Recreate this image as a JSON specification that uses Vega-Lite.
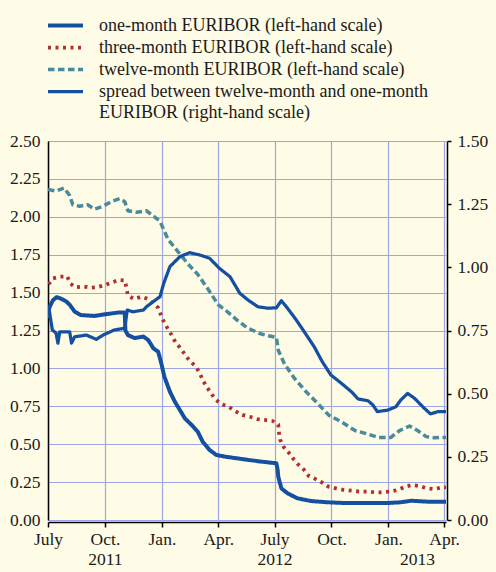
{
  "$schema": "https://vega.github.io/schema/vega-lite/v6.json",
  "autosize": {"type": "none"},
  "padding": {"left": 48, "top": 141, "right": 50, "bottom": 52},
  "width": 398,
  "height": 379,
  "background": "#fefbe6",
  "config": {
    "font": "Liberation Serif",
    "view": {"stroke": null},
    "axis": {"labelFont": "Liberation Serif", "labelFontSize": 17.5, "labelColor": "#1a1a1a", "domainColor": "#000000", "domainWidth": 1.5, "tickColor": "#000000", "tickWidth": 1.5, "gridColor": "#9da6e6", "gridWidth": 1.2, "gridOpacity": 1, "title": null},
    "legend": {"labelFont": "Liberation Serif", "labelFontSize": 18, "labelColor": "#1a1a1a", "labelLimit": 500}
  },
  "datasets": {
    "rates": [
      {"date": "2011-07-01", "series": "one", "value": 1.33},
      {"date": "2011-07-03", "series": "one", "value": 1.40},
      {"date": "2011-07-09", "series": "one", "value": 1.45},
      {"date": "2011-07-15", "series": "one", "value": 1.47},
      {"date": "2011-07-22", "series": "one", "value": 1.46},
      {"date": "2011-07-31", "series": "one", "value": 1.44},
      {"date": "2011-08-05", "series": "one", "value": 1.42},
      {"date": "2011-08-13", "series": "one", "value": 1.375},
      {"date": "2011-08-23", "series": "one", "value": 1.352},
      {"date": "2011-09-14", "series": "one", "value": 1.346},
      {"date": "2011-10-01", "series": "one", "value": 1.357},
      {"date": "2011-10-22", "series": "one", "value": 1.368},
      {"date": "2011-11-02", "series": "one", "value": 1.368},
      {"date": "2011-11-03", "series": "one", "value": 1.25},
      {"date": "2011-11-07", "series": "one", "value": 1.22},
      {"date": "2011-11-18", "series": "one", "value": 1.20},
      {"date": "2011-12-02", "series": "one", "value": 1.21},
      {"date": "2011-12-10", "series": "one", "value": 1.187},
      {"date": "2011-12-15", "series": "one", "value": 1.154},
      {"date": "2011-12-18", "series": "one", "value": 1.133},
      {"date": "2011-12-26", "series": "one", "value": 1.11},
      {"date": "2011-12-31", "series": "one", "value": 1.034},
      {"date": "2012-01-05", "series": "one", "value": 0.945},
      {"date": "2012-01-14", "series": "one", "value": 0.846},
      {"date": "2012-01-22", "series": "one", "value": 0.78},
      {"date": "2012-01-30", "series": "one", "value": 0.726},
      {"date": "2012-02-07", "series": "one", "value": 0.671},
      {"date": "2012-02-18", "series": "one", "value": 0.627},
      {"date": "2012-02-28", "series": "one", "value": 0.582},
      {"date": "2012-03-07", "series": "one", "value": 0.516},
      {"date": "2012-03-18", "series": "one", "value": 0.462},
      {"date": "2012-03-29", "series": "one", "value": 0.429},
      {"date": "2012-04-12", "series": "one", "value": 0.418},
      {"date": "2012-05-01", "series": "one", "value": 0.407},
      {"date": "2012-05-20", "series": "one", "value": 0.396},
      {"date": "2012-06-10", "series": "one", "value": 0.385},
      {"date": "2012-07-04", "series": "one", "value": 0.374},
      {"date": "2012-07-06", "series": "one", "value": 0.33},
      {"date": "2012-07-07", "series": "one", "value": 0.286},
      {"date": "2012-07-12", "series": "one", "value": 0.209},
      {"date": "2012-07-22", "series": "one", "value": 0.176},
      {"date": "2012-08-07", "series": "one", "value": 0.143},
      {"date": "2012-08-29", "series": "one", "value": 0.125},
      {"date": "2012-09-24", "series": "one", "value": 0.117},
      {"date": "2012-10-22", "series": "one", "value": 0.112},
      {"date": "2012-11-29", "series": "one", "value": 0.112},
      {"date": "2012-12-31", "series": "one", "value": 0.112},
      {"date": "2013-01-21", "series": "one", "value": 0.117},
      {"date": "2013-02-07", "series": "one", "value": 0.127},
      {"date": "2013-03-05", "series": "one", "value": 0.121},
      {"date": "2013-04-04", "series": "one", "value": 0.121},

      {"date": "2011-07-02", "series": "three", "value": 1.555},
      {"date": "2011-07-09", "series": "three", "value": 1.594},
      {"date": "2011-07-21", "series": "three", "value": 1.605},
      {"date": "2011-08-01", "series": "three", "value": 1.607},
      {"date": "2011-08-06", "series": "three", "value": 1.56},
      {"date": "2011-08-14", "series": "three", "value": 1.535},
      {"date": "2011-08-27", "series": "three", "value": 1.54},
      {"date": "2011-09-08", "series": "three", "value": 1.532},
      {"date": "2011-09-20", "series": "three", "value": 1.537},
      {"date": "2011-10-01", "series": "three", "value": 1.55},
      {"date": "2011-10-11", "series": "three", "value": 1.565},
      {"date": "2011-10-23", "series": "three", "value": 1.583},
      {"date": "2011-11-02", "series": "three", "value": 1.58},
      {"date": "2011-11-05", "series": "three", "value": 1.528},
      {"date": "2011-11-07", "series": "three", "value": 1.48},
      {"date": "2011-11-17", "series": "three", "value": 1.458},
      {"date": "2011-11-29", "series": "three", "value": 1.473},
      {"date": "2011-12-10", "series": "three", "value": 1.458},
      {"date": "2011-12-18", "series": "three", "value": 1.43},
      {"date": "2011-12-26", "series": "three", "value": 1.40},
      {"date": "2011-12-30", "series": "three", "value": 1.357},
      {"date": "2012-01-04", "series": "three", "value": 1.31},
      {"date": "2012-01-10", "series": "three", "value": 1.265},
      {"date": "2012-01-16", "series": "three", "value": 1.225},
      {"date": "2012-01-23", "series": "three", "value": 1.172},
      {"date": "2012-01-31", "series": "three", "value": 1.133},
      {"date": "2012-02-07", "series": "three", "value": 1.093},
      {"date": "2012-02-15", "series": "three", "value": 1.049},
      {"date": "2012-02-24", "series": "three", "value": 1.016},
      {"date": "2012-03-02", "series": "three", "value": 0.972},
      {"date": "2012-03-07", "series": "three", "value": 0.923},
      {"date": "2012-03-13", "series": "three", "value": 0.879},
      {"date": "2012-03-20", "series": "three", "value": 0.84},
      {"date": "2012-03-27", "series": "three", "value": 0.796},
      {"date": "2012-04-06", "series": "three", "value": 0.765},
      {"date": "2012-04-18", "series": "three", "value": 0.747},
      {"date": "2012-04-28", "series": "three", "value": 0.719},
      {"date": "2012-05-10", "series": "three", "value": 0.693},
      {"date": "2012-05-22", "series": "three", "value": 0.681},
      {"date": "2012-06-03", "series": "three", "value": 0.666},
      {"date": "2012-06-15", "series": "three", "value": 0.66},
      {"date": "2012-06-28", "series": "three", "value": 0.653},
      {"date": "2012-07-07", "series": "three", "value": 0.63},
      {"date": "2012-07-08", "series": "three", "value": 0.58},
      {"date": "2012-07-10", "series": "three", "value": 0.53},
      {"date": "2012-07-16", "series": "three", "value": 0.48},
      {"date": "2012-07-24", "series": "three", "value": 0.444},
      {"date": "2012-08-01", "series": "three", "value": 0.40},
      {"date": "2012-08-08", "series": "three", "value": 0.367},
      {"date": "2012-08-17", "series": "three", "value": 0.334},
      {"date": "2012-08-25", "series": "three", "value": 0.292},
      {"date": "2012-09-03", "series": "three", "value": 0.275},
      {"date": "2012-09-15", "series": "three", "value": 0.249},
      {"date": "2012-09-26", "series": "three", "value": 0.22},
      {"date": "2012-10-08", "series": "three", "value": 0.209},
      {"date": "2012-10-21", "series": "three", "value": 0.198},
      {"date": "2012-11-03", "series": "three", "value": 0.193},
      {"date": "2012-11-16", "series": "three", "value": 0.187},
      {"date": "2012-11-28", "series": "three", "value": 0.187},
      {"date": "2012-12-09", "series": "three", "value": 0.183},
      {"date": "2012-12-21", "series": "three", "value": 0.183},
      {"date": "2013-01-04", "series": "three", "value": 0.187},
      {"date": "2013-01-16", "series": "three", "value": 0.198},
      {"date": "2013-01-28", "series": "three", "value": 0.22},
      {"date": "2013-02-08", "series": "three", "value": 0.231},
      {"date": "2013-02-20", "series": "three", "value": 0.224},
      {"date": "2013-03-04", "series": "three", "value": 0.209},
      {"date": "2013-03-16", "series": "three", "value": 0.204},
      {"date": "2013-03-29", "series": "three", "value": 0.216},
      {"date": "2013-04-04", "series": "three", "value": 0.215},

      {"date": "2011-07-01", "series": "twelve", "value": 2.18},
      {"date": "2011-07-14", "series": "twelve", "value": 2.17},
      {"date": "2011-07-27", "series": "twelve", "value": 2.19},
      {"date": "2011-08-05", "series": "twelve", "value": 2.14},
      {"date": "2011-08-10", "series": "twelve", "value": 2.08},
      {"date": "2011-08-21", "series": "twelve", "value": 2.07},
      {"date": "2011-09-03", "series": "twelve", "value": 2.08},
      {"date": "2011-09-14", "series": "twelve", "value": 2.05},
      {"date": "2011-09-28", "series": "twelve", "value": 2.07},
      {"date": "2011-10-11", "series": "twelve", "value": 2.10},
      {"date": "2011-10-25", "series": "twelve", "value": 2.12},
      {"date": "2011-11-02", "series": "twelve", "value": 2.10},
      {"date": "2011-11-07", "series": "twelve", "value": 2.04},
      {"date": "2011-11-21", "series": "twelve", "value": 2.03},
      {"date": "2011-12-07", "series": "twelve", "value": 2.04},
      {"date": "2011-12-20", "series": "twelve", "value": 2.00},
      {"date": "2011-12-29", "series": "twelve", "value": 1.97},
      {"date": "2012-01-11", "series": "twelve", "value": 1.85},
      {"date": "2012-01-25", "series": "twelve", "value": 1.78},
      {"date": "2012-02-12", "series": "twelve", "value": 1.69},
      {"date": "2012-02-28", "series": "twelve", "value": 1.62},
      {"date": "2012-03-16", "series": "twelve", "value": 1.52},
      {"date": "2012-04-01", "series": "twelve", "value": 1.42},
      {"date": "2012-04-17", "series": "twelve", "value": 1.37},
      {"date": "2012-05-01", "series": "twelve", "value": 1.32},
      {"date": "2012-05-17", "series": "twelve", "value": 1.27},
      {"date": "2012-06-07", "series": "twelve", "value": 1.23},
      {"date": "2012-06-21", "series": "twelve", "value": 1.215},
      {"date": "2012-07-04", "series": "twelve", "value": 1.205},
      {"date": "2012-07-07", "series": "twelve", "value": 1.12},
      {"date": "2012-07-17", "series": "twelve", "value": 1.03},
      {"date": "2012-08-02", "series": "twelve", "value": 0.935},
      {"date": "2012-08-21", "series": "twelve", "value": 0.846},
      {"date": "2012-09-06", "series": "twelve", "value": 0.78},
      {"date": "2012-09-27", "series": "twelve", "value": 0.69},
      {"date": "2012-10-16", "series": "twelve", "value": 0.65},
      {"date": "2012-11-08", "series": "twelve", "value": 0.59},
      {"date": "2012-11-26", "series": "twelve", "value": 0.57},
      {"date": "2012-12-15", "series": "twelve", "value": 0.545},
      {"date": "2013-01-05", "series": "twelve", "value": 0.545},
      {"date": "2013-01-19", "series": "twelve", "value": 0.59},
      {"date": "2013-02-04", "series": "twelve", "value": 0.62},
      {"date": "2013-02-17", "series": "twelve", "value": 0.59},
      {"date": "2013-03-03", "series": "twelve", "value": 0.55},
      {"date": "2013-03-16", "series": "twelve", "value": 0.543},
      {"date": "2013-04-04", "series": "twelve", "value": 0.545}
    ],
    "spread": [
      {"date": "2011-07-01", "series": "spread", "value": 0.844},
      {"date": "2011-07-03", "series": "spread", "value": 0.83},
      {"date": "2011-07-08", "series": "spread", "value": 0.752},
      {"date": "2011-07-14", "series": "spread", "value": 0.74},
      {"date": "2011-07-17", "series": "spread", "value": 0.70},
      {"date": "2011-07-20", "series": "spread", "value": 0.745},
      {"date": "2011-08-05", "series": "spread", "value": 0.745},
      {"date": "2011-08-08", "series": "spread", "value": 0.70},
      {"date": "2011-08-13", "series": "spread", "value": 0.725},
      {"date": "2011-09-01", "series": "spread", "value": 0.732},
      {"date": "2011-09-17", "series": "spread", "value": 0.715},
      {"date": "2011-09-28", "series": "spread", "value": 0.732},
      {"date": "2011-10-16", "series": "spread", "value": 0.752},
      {"date": "2011-11-02", "series": "spread", "value": 0.759},
      {"date": "2011-11-06", "series": "spread", "value": 0.831},
      {"date": "2011-11-15", "series": "spread", "value": 0.824},
      {"date": "2011-12-02", "series": "spread", "value": 0.831},
      {"date": "2011-12-07", "series": "spread", "value": 0.844},
      {"date": "2011-12-18", "series": "spread", "value": 0.864},
      {"date": "2011-12-29", "series": "spread", "value": 0.884},
      {"date": "2012-01-04", "series": "spread", "value": 0.937},
      {"date": "2012-01-14", "series": "spread", "value": 1.003},
      {"date": "2012-01-30", "series": "spread", "value": 1.042},
      {"date": "2012-02-15", "series": "spread", "value": 1.058},
      {"date": "2012-03-02", "series": "spread", "value": 1.049},
      {"date": "2012-03-18", "series": "spread", "value": 1.036},
      {"date": "2012-04-03", "series": "spread", "value": 0.996},
      {"date": "2012-04-20", "series": "spread", "value": 0.963},
      {"date": "2012-05-06", "series": "spread", "value": 0.897},
      {"date": "2012-05-19", "series": "spread", "value": 0.871},
      {"date": "2012-06-04", "series": "spread", "value": 0.844},
      {"date": "2012-06-21", "series": "spread", "value": 0.838},
      {"date": "2012-07-04", "series": "spread", "value": 0.84},
      {"date": "2012-07-12", "series": "spread", "value": 0.868},
      {"date": "2012-07-22", "series": "spread", "value": 0.838},
      {"date": "2012-08-05", "series": "spread", "value": 0.792},
      {"date": "2012-08-18", "series": "spread", "value": 0.745},
      {"date": "2012-09-03", "series": "spread", "value": 0.686},
      {"date": "2012-09-16", "series": "spread", "value": 0.627},
      {"date": "2012-09-30", "series": "spread", "value": 0.574},
      {"date": "2012-10-16", "series": "spread", "value": 0.543},
      {"date": "2012-11-02", "series": "spread", "value": 0.508},
      {"date": "2012-11-13", "series": "spread", "value": 0.479},
      {"date": "2012-11-29", "series": "spread", "value": 0.472},
      {"date": "2012-12-07", "series": "spread", "value": 0.455},
      {"date": "2012-12-14", "series": "spread", "value": 0.429},
      {"date": "2012-12-31", "series": "spread", "value": 0.435},
      {"date": "2013-01-13", "series": "spread", "value": 0.448},
      {"date": "2013-01-21", "series": "spread", "value": 0.475},
      {"date": "2013-02-01", "series": "spread", "value": 0.501},
      {"date": "2013-02-12", "series": "spread", "value": 0.482},
      {"date": "2013-02-28", "series": "spread", "value": 0.442},
      {"date": "2013-03-10", "series": "spread", "value": 0.42},
      {"date": "2013-03-22", "series": "spread", "value": 0.429},
      {"date": "2013-04-04", "series": "spread", "value": 0.429}
    ]
  },
  "layer": [
    {
      "data": {"name": "rates"},
      "mark": {"type": "line", "strokeCap": "butt", "strokeJoin": "round", "clip": true},
      "encoding": {
        "x": {
          "field": "date", "type": "temporal",
          "scale": {"domain": [{"year": 2011, "month": 7, "date": 1, "utc": true}, {"year": 2013, "month": 4, "date": 4, "utc": true}]},
          "axis": {
            "title": null,
            "offset": 2,
            "tickSize": 5,
            "labelPadding": 3,
            "labelLineHeight": 20,
            "labelBaseline": "top",
            "labelFlush": false,
            "labelOverlap": false,
            "values": [
              {"year": 2011, "month": 7, "date": 1, "utc": true},
              {"year": 2011, "month": 10, "date": 1, "utc": true},
              {"year": 2012, "month": 1, "date": 1, "utc": true},
              {"year": 2012, "month": 4, "date": 1, "utc": true},
              {"year": 2012, "month": 7, "date": 1, "utc": true},
              {"year": 2012, "month": 10, "date": 1, "utc": true},
              {"year": 2013, "month": 1, "date": 1, "utc": true},
              {"year": 2013, "month": 2, "date": 16, "utc": true},
              {"year": 2013, "month": 4, "date": 1, "utc": true}
            ],
            "labelExpr": "utcmonth(datum.value) == 6 ? (utcyear(datum.value) == 2012 ? ['July', '2012'] : 'July') : utcmonth(datum.value) == 9 ? (utcyear(datum.value) == 2011 ? ['Oct.', '2011'] : 'Oct.') : utcmonth(datum.value) == 0 ? 'Jan.' : utcmonth(datum.value) == 3 ? 'Apr.' : [' ', '2013']",
            "tickOpacity": {"condition": {"test": "utcmonth(datum.value) == 1", "value": 0}, "value": 1},
            "gridOpacity": {"condition": {"test": "utcmonth(datum.value) == 1", "value": 0}, "value": 1}
          }
        },
        "y": {
          "field": "value", "type": "quantitative",
          "scale": {"domain": [0, 2.5], "nice": false, "zero": true},
          "axis": {"title": null, "values": [0, 0.25, 0.5, 0.75, 1, 1.25, 1.5, 1.75, 2, 2.25, 2.5], "format": ".2f", "ticks": false, "labelPadding": 8}
        },
        "color": {
          "field": "series", "type": "nominal",
          "scale": {"domain": ["one", "three", "twelve", "spread", "spread2"], "range": ["#1550a0", "#b03030", "#4a8a9a", "#1550a0", "rgba(0,0,0,0)"]},
          "legend": {
            "title": null,
            "orient": "none",
            "legendX": 5,
            "legendY": -128,
            "symbolType": "M-1.667,0H1.667",
            "symbolSize": 441,
            "labelOffset": 21,
            "rowPadding": -1,
            "labelExpr": "datum.label == 'one' ? 'one-month EURIBOR (left-hand scale)' : datum.label == 'three' ? 'three-month EURIBOR (left-hand scale)' : datum.label == 'twelve' ? 'twelve-month EURIBOR (left-hand scale)' : datum.label == 'spread' ? 'spread between twelve-month and one-month' : 'EURIBOR (right-hand scale)'"
          }
        },
        "strokeDash": {
          "field": "series", "type": "nominal",
          "scale": {"domain": ["one", "three", "twelve", "spread", "spread2"], "range": [[1, 0], [3, 4.5], [6.5, 3.5], [1, 0], [1, 0]]}
        },
        "strokeWidth": {
          "field": "series", "type": "nominal",
          "scale": {"domain": ["one", "three", "twelve", "spread", "spread2"], "range": [4, 3, 4, 2, 0]}
        }
      }
    },
    {
      "data": {"name": "spread"},
      "mark": {"type": "line", "strokeJoin": "round", "clip": true},
      "encoding": {
        "x": {"field": "date", "type": "temporal"},
        "y": {
          "field": "value", "type": "quantitative",
          "scale": {"domain": [0, 1.5], "nice": false, "zero": true},
          "axis": {"title": null, "orient": "right", "values": [0, 0.25, 0.5, 0.75, 1, 1.25, 1.5], "format": ".2f", "grid": false, "tickSize": 4, "offset": 1, "labelPadding": 6}
        },
        "color": {"field": "series", "type": "nominal"},
        "strokeDash": {"field": "series", "type": "nominal"},
        "strokeWidth": {"field": "series", "type": "nominal"}
      }
    }
  ],
  "resolve": {"scale": {"y": "independent"}}
}
